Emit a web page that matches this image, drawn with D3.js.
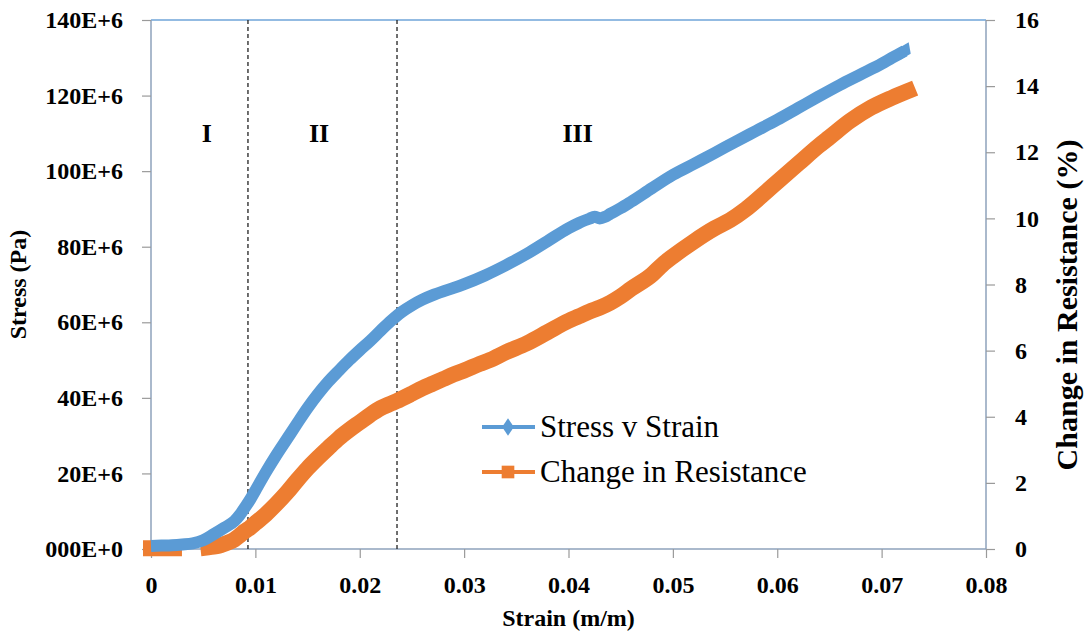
<!DOCTYPE html>
<html>
<head>
<meta charset="utf-8">
<script src="https://cdn.jsdelivr.net/npm/d3@7"></script>
<style>
  body { margin: 0; background: #fff; }
</style>
</head>
<body>
<svg id="chart" width="1090" height="634"></svg>
<script>
var serif = "Liberation Serif";

// strain (m/m) and stress (E+6 Pa)
var stressStrain = [0, 0.001, 0.002, 0.003, 0.004, 0.005, 0.006, 0.007,
  0.008, 0.0085, 0.009, 0.0095, 0.010, 0.011, 0.012, 0.013, 0.014, 0.015, 0.016, 0.017, 0.018, 0.019,
  0.020, 0.021, 0.022, 0.023, 0.024, 0.025, 0.026, 0.027, 0.028, 0.029, 0.030, 0.032, 0.034,
  0.036, 0.038, 0.040, 0.041, 0.042, 0.0425, 0.043, 0.0435, 0.044, 0.045, 0.046, 0.048, 0.050, 0.052,
  0.054, 0.056, 0.058, 0.060, 0.062, 0.064, 0.066, 0.068, 0.070, 0.071, 0.0722];
var stress = [0.8, 0.9, 1.0, 1.2, 1.5, 2.3, 3.9, 5.6,
  7.4, 9.0, 11.0, 13.1, 15.5, 20.3, 24.8, 29.0, 33.2, 37.3, 41.0, 44.3, 47.2, 50.0,
  52.6, 55.1, 57.8, 60.4, 62.7, 64.5, 66.0, 67.2, 68.2, 69.1, 70.1, 72.4, 75.1,
  78.1, 81.5, 84.9, 86.3, 87.4, 87.9, 87.5, 87.9, 88.7, 90.2, 91.9, 95.5, 99.0, 101.9,
  104.8, 107.8, 110.7, 113.6, 116.7, 119.8, 122.8, 125.6, 128.4, 130.0, 131.8];

// strain (m/m) and change in resistance (%), null = no reading
var resStrain = [0, 0.0011, 0.0022, 0.004, 0.0055, 0.006, 0.0065, 0.007, 0.0075,
  0.008, 0.0085, 0.009, 0.0095, 0.010, 0.011, 0.012, 0.013, 0.014, 0.015, 0.016, 0.017, 0.018, 0.019,
  0.020, 0.021, 0.022, 0.023, 0.0235, 0.025, 0.026, 0.027, 0.028, 0.029, 0.030, 0.0315, 0.0325, 0.034,
  0.036, 0.038, 0.040, 0.041, 0.042, 0.043, 0.044, 0.045, 0.046, 0.048, 0.049, 0.050, 0.052, 0.054,
  0.0555, 0.057, 0.059, 0.060, 0.062, 0.064, 0.065, 0.067, 0.069, 0.071, 0.0725];
var resistance = [0.02, 0.02, 0.02, null, 0.05, 0.07, 0.10, 0.15, 0.21,
  0.29, 0.41, 0.54, 0.65, 0.78, 1.05, 1.36, 1.70, 2.08, 2.44, 2.76, 3.06, 3.35, 3.60,
  3.83, 4.06, 4.26, 4.40, 4.47, 4.70, 4.86, 5.00, 5.14, 5.28, 5.40, 5.60, 5.72, 5.95,
  6.22, 6.56, 6.90, 7.04, 7.18, 7.30, 7.45, 7.64, 7.87, 8.30, 8.60, 8.85, 9.30, 9.70,
  9.95, 10.28, 10.82, 11.10, 11.65, 12.20, 12.45, 12.95, 13.35, 13.65, 13.85];

var xTicks = [0, 0.01, 0.02, 0.03, 0.04, 0.05, 0.06, 0.07, 0.08];
var xTickLabels = ["0", "0.01", "0.02", "0.03", "0.04", "0.05", "0.06", "0.07", "0.08"];
var yTicks = [0, 20, 40, 60, 80, 100, 120, 140];
var yTickLabels = ["000E+0", "20E+6", "40E+6", "60E+6", "80E+6", "100E+6", "120E+6", "140E+6"];
var y2Ticks = [0, 2, 4, 6, 8, 10, 12, 14, 16];

var regionBounds = [0.00929, 0.02357];
var regionLabels = [{t: "I", x: 0.00535}, {t: "II", x: 0.01610}, {t: "III", x: 0.04088}];

var margin = {top: 20, right: 104, bottom: 85, left: 151};
var w = 1090, h = 634;

var svg = d3.select("#chart");

var x = d3.scaleLinear().domain([0, 0.08]).range([margin.left, w - margin.right]);
var y = d3.scaleLinear().domain([0, 140]).range([h - margin.bottom, margin.top]);
var y2 = d3.scaleLinear().domain([0, 16]).range([h - margin.bottom, margin.top]);

var axisColor = "#8ea2bb";

// top border line
svg.append("line")
  .attr("x1", x(0)).attr("x2", x(0.08))
  .attr("y1", y(140)).attr("y2", y(140))
  .attr("stroke", "#6fa4d8").attr("stroke-width", 1.5);

var xAxis = svg.append("g")
  .attr("transform", "translate(0," + y(0) + ")")
  .call(d3.axisBottom(x).tickValues(xTicks).tickSize(9).tickPadding(18)
    .tickFormat(function(d, i) { return xTickLabels[i]; }));

var yAxis = svg.append("g")
  .attr("transform", "translate(" + x(0) + ",0)")
  .call(d3.axisLeft(y).tickValues(yTicks).tickSize(9).tickPadding(19)
    .tickFormat(function(d, i) { return yTickLabels[i]; }));

var y2Axis = svg.append("g")
  .attr("transform", "translate(" + x(0.08) + ",0)")
  .call(d3.axisRight(y2).tickValues(y2Ticks).tickSize(9).tickPadding(20));

[xAxis, yAxis, y2Axis].forEach(function(a) {
  a.select(".domain").attr("stroke", axisColor).attr("stroke-width", 1.5);
  a.selectAll(".tick line").attr("stroke", "#9a9a9a").attr("stroke-width", 1.2);
  a.selectAll(".tick text")
    .attr("fill", "#000")
    .style("font-family", serif).style("font-size", "24px").style("font-weight", "bold");
});
xAxis.select(".domain").attr("d", "M" + x(0) + ",0H" + x(0.08));
yAxis.select(".domain").attr("d", "M0," + y(140) + "V" + y(0));
y2Axis.select(".domain").attr("d", "M0," + y2(16) + "V" + y2(0));

// region boundaries
svg.selectAll(".bound")
  .data(regionBounds)
  .enter().append("line")
  .attr("class", "bound")
  .attr("x1", function(d) { return x(d); }).attr("x2", function(d) { return x(d); })
  .attr("y1", y(140)).attr("y2", y(0))
  .attr("stroke", "#222").attr("stroke-width", 1.3)
  .attr("stroke-dasharray", "4,3");

svg.selectAll(".region")
  .data(regionLabels)
  .enter().append("text")
  .attr("x", function(d) { return x(d.x); })
  .attr("y", 142)
  .attr("text-anchor", "middle")
  .style("font-family", serif).style("font-weight", "bold").style("font-size", "26px")
  .text(function(d) { return d.t; });

// series
var resData = resStrain.map(function(s, i) { return [s, resistance[i]]; });
var stressData = stressStrain.map(function(s, i) { return [s, stress[i]]; });

var resLine = d3.line()
  .defined(function(d) { return d[1] !== null; })
  .curve(d3.curveMonotoneX)
  .x(function(d) { return x(d[0]); })
  .y(function(d) { return y2(d[1]); });

var stressLine = d3.line()
  .curve(d3.curveMonotoneX)
  .x(function(d) { return x(d[0]); })
  .y(function(d) { return y(d[1]); });

svg.append("path")
  .datum(resData)
  .attr("d", resLine)
  .attr("fill", "none")
  .attr("stroke", "#ed7d31")
  .attr("stroke-width", 16)
  .attr("stroke-linecap", "square")
  .attr("stroke-linejoin", "round");

svg.append("path")
  .datum(stressData)
  .attr("d", stressLine)
  .attr("fill", "none")
  .attr("stroke", "#5b9bd5")
  .attr("stroke-width", 12)
  .attr("stroke-linejoin", "round");

var diamond = d3.symbol().type(d3.symbolDiamond).size(110);
svg.selectAll(".stressMark")
  .data([stressData[stressData.length - 1]])
  .enter().append("path")
  .attr("class", "stressMark")
  .attr("d", diamond)
  .attr("transform", function(d) { return "translate(" + x(d[0]) + "," + y(d[1]) + ") rotate(25) scale(1.2,1)"; })
  .attr("fill", "#5b9bd5");

// axis titles
svg.append("text")
  .attr("transform", "translate(26," + ((y(0) + y(140)) / 2) + ") rotate(-90)")
  .attr("text-anchor", "middle")
  .style("font-family", serif).style("font-weight", "bold").style("font-size", "24px")
  .text("Stress (Pa)");

svg.append("text")
  .attr("x", (x(0) + x(0.08)) / 2)
  .attr("y", 626)
  .attr("text-anchor", "middle")
  .style("font-family", serif).style("font-weight", "bold").style("font-size", "24px")
  .text("Strain (m/m)");

svg.append("text")
  .attr("transform", "translate(1077,305) rotate(-90)")
  .attr("text-anchor", "middle")
  .style("font-family", serif).style("font-weight", "bold").style("font-size", "30px")
  .text("Change in Resistance (%)");

// legend
var legendItems = [
  {label: "Stress v Strain", color: "#5b9bd5", mark: "diamond"},
  {label: "Change in Resistance", color: "#ed7d31", mark: "square"}
];
var legend = svg.append("g").attr("transform", "translate(482,427)");
var li = legend.selectAll("g").data(legendItems).enter().append("g")
  .attr("transform", function(d, i) { return "translate(0," + i * 45 + ")"; });
li.append("line").attr("x1", 0).attr("x2", 53).attr("y1", 0).attr("y2", 0)
  .attr("stroke", function(d) { return d.color; }).attr("stroke-width", 4);
li.append("path")
  .attr("d", function(d) { return d.mark === "diamond" ? d3.symbol().type(d3.symbolDiamond).size(90)() : d3.symbol().type(d3.symbolSquare).size(160)(); })
  .attr("transform", function(d) { return "translate(26,0)" + (d.mark === "diamond" ? " scale(1.15,1)" : ""); })
  .attr("fill", function(d) { return d.color; });
li.append("text").attr("x", 58).attr("y", 10)
  .style("font-family", serif).style("font-size", "31px")
  .text(function(d) { return d.label; });
</script>
</body>
</html>
